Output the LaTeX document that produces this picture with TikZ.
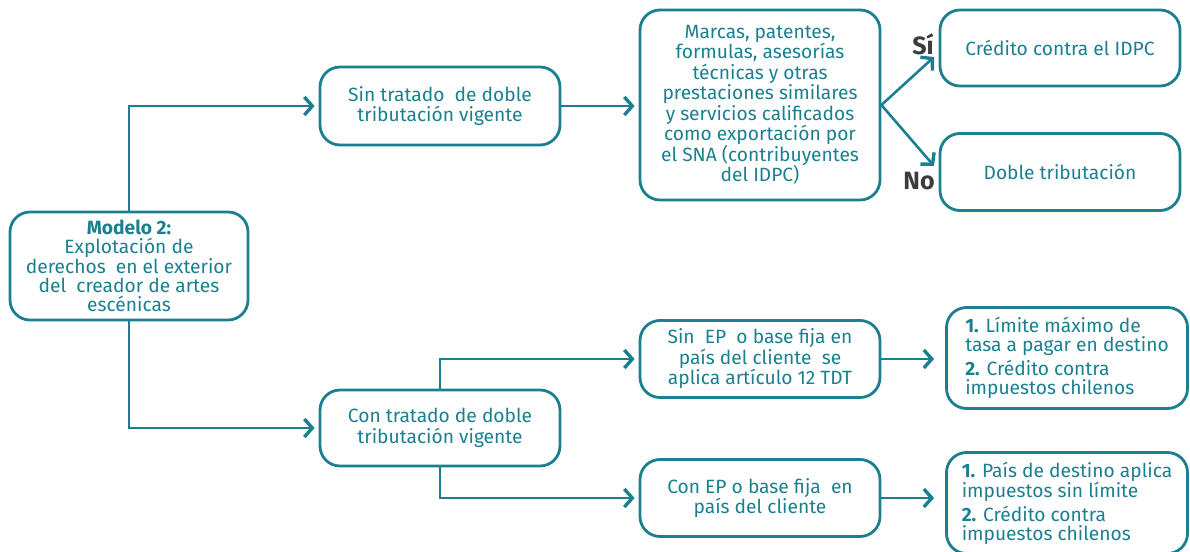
\documentclass[tikz,border=0pt]{standalone}
\usepackage{fontspec}
\setmainfont{Fira Sans}
\usetikzlibrary{arrows.meta}
\definecolor{teal1}{HTML}{1A7F8F}
\definecolor{darkg}{HTML}{3C3C3C}
\tikzset{
  box/.style={draw=teal1, line width=2.8pt, rounded corners=20pt, text=teal1, align=center,
    font=\fontsize{19.2}{20.5}\selectfont, inner sep=2pt},
  listbox/.style={box, align=left, font=\fontsize{19.2}{19}\selectfont},
  conn/.style={draw=teal1, line width=2.6pt, -{Straight Barb[length=8pt,width=18pt,line width=3.4pt]}, shorten >=4pt},
  yn/.style={text=darkg, font=\fontsize{25}{26}\selectfont\bfseries}
}
\begin{document}
\begin{tikzpicture}[x=1pt,y=-1pt]
\useasboundingbox (0,0) rectangle (1190,551);
\node[box, minimum width=238pt, minimum height=108pt, font=\fontsize{19.2}{19.3}\selectfont] (m) at (129,266)
  {{\bfseries Modelo 2:}\\Explotación de\\derechos\ \ en el exterior\\del\ \ creador de artes\\escénicas};
\node[box, minimum width=240pt, minimum height=78pt] (s) at (440,106)
  {Sin tratado\ \ de doble\\tributación vigente};
\node[box, minimum width=240pt, minimum height=76pt] (c) at (440,428)
  {Con tratado de doble\\tributación vigente};
\node[box, minimum width=240pt, minimum height=190pt] (mk) at (760,105)
  {Marcas, patentes,\\formulas, asesorías\\técnicas y otras\\prestaciones similares\\y servicios calificados\\como exportación por\\el SNA (contribuyentes\\del IDPC)};
\node[box, minimum width=240pt, minimum height=76pt] (cr) at (1060,48)
  {Crédito contra el IDPC};
\node[box, minimum width=240pt, minimum height=77pt] (db) at (1060,172)
  {Doble tributación};
\node[box, minimum width=240pt, minimum height=77pt] (se) at (760,359)
  {Sin\ \ EP\ \ o base fija en\\país del cliente\ \ se\\aplica artículo 12 TDT};
\node[box, minimum width=240pt, minimum height=77pt] (ce) at (760,498)
  {Con EP o base fija\ \ en\\país del cliente};
\node[listbox, minimum width=241pt, minimum height=101pt] (r1) at (1067,358)
  {{\bfseries 1.} Límite máximo de\\tasa a pagar en destino\\[3pt]{\bfseries 2.} Crédito contra\\impuestos chilenos};
\node[listbox, minimum width=241pt, minimum height=101pt] (r2) at (1067,503)
  {{\bfseries 1.} País de destino aplica\\impuestos sin límite\\[3pt]{\bfseries 2.} Crédito contra\\impuestos chilenos};
\coordinate (si) at (934,57);
\coordinate (no) at (934,166);
\node[yn] (siL) at (923,44) {Sí};
\node[yn] (noL) at (919,181) {No};
\draw[conn] (m.north) |- (s.west);
\draw[conn] (m.south) |- (c.west);
\draw[conn] (s.east) -- (s.east -| mk.west);
\draw[conn, shorten >=0pt] (mk.east) -- (si);
\draw[conn, shorten >=0pt] (mk.east) -- (no);
\draw[conn] (c.north) |- (se.west);
\draw[conn] (c.south) |- (ce.west);
\draw[conn, shorten >=11pt] (se.east) -- (se.east -| r1.west);
\draw[conn, shorten >=11pt] (ce.east) -- (ce.east -| r2.west);
\end{tikzpicture}
\end{document}
